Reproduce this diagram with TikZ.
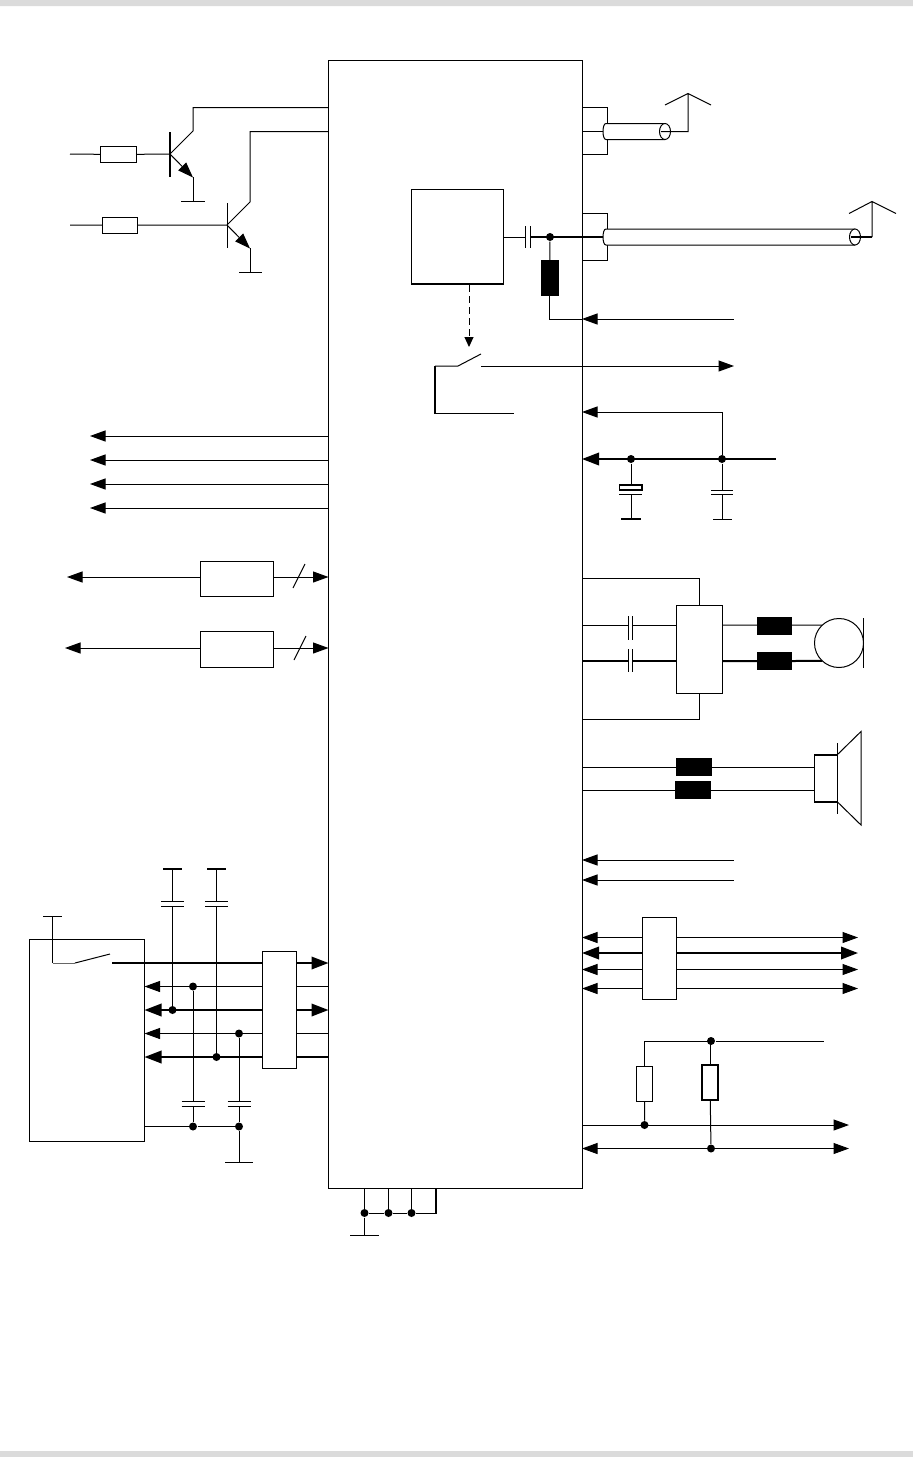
\documentclass[tikz,border=0pt]{standalone}
\usetikzlibrary{arrows.meta}
\tikzset{
  box/.style 2 args={draw, fill=white, anchor=north west, inner sep=0pt, outer sep=0pt,
    minimum width=#1pt, minimum height=#2pt},
  choke/.style 2 args={fill=black, anchor=north west, inner sep=0pt, outer sep=0pt,
    minimum width=#1pt, minimum height=#2pt},
  dot/.style={circle, fill=black, inner sep=0pt, minimum size=8pt},
  bus/.style={line width=2pt, >={Triangle[length=17pt,width=12.5pt]}},
}
\begin{document}
\begin{tikzpicture}[x=1pt, y=-1pt, line width=1pt, >={Triangle[length=15.5pt,width=11pt]}]
\useasboundingbox (0,0) rectangle (913,1457);
\fill[black!14] (0,0) rectangle (913,6) (0,1451) rectangle (913,1457);
%
% blocks
\node[box={253.5}{1128}] (ic) at (328.5,60) {};
\node[box={92}{95}] (rf) at (411,189) {};
\node[box={73}{35}] (lv1) at (200,561) {};
\node[box={73}{36}] (lv2) at (200,631) {};
\node[box={46.5}{88.5}] (amp) at (676,605) {};
\node[box={34.5}{82.5}] (esd) at (642,917) {};
\node[box={115}{201.5}] (sim) at (29.5,939.5) {};
\node[box={34.5}{117}] (flt) at (262,951) {};
\node[box={36}{16}] (r1) at (100,146.5) {};
\node[box={35}{16}] (r2) at (102,217) {};
\node[box={16}{35.5}] (r3) at (636.5,1066) {};
\node[box={16}{35}, line width=1.4pt] (r4) at (702,1065) {};
\node[box={23}{47.5}] (spk) at (814.5,754.5) {};
\node[circle, draw, fill=white, inner sep=0pt, outer sep=0pt, minimum size=49pt] (mic) at (839,643) {};
%
\node[choke={17.5}{36}] (l1) at (541,260) {};
\node[choke={35}{18}] (l2) at (757,616.5) {};
\node[choke={35}{18}] (l3) at (757,652) {};
\node[choke={36}{18}] (l4) at (676,758) {};
\node[choke={36}{18}] (l5) at (675,781) {};
%
\foreach \n/\x/\y in {j1/550/237, j2/631/459, j3/722/459,
  j4/193/986.5, j5/172.5/1010, j6/239/1033.5, j7/216.5/1057,
  j8/193/1126.5, j9/239/1126.5,
  j10/711/1041, j11/644.5/1125, j12/711/1148.5,
  j13/364.5/1213, j14/388.5/1213, j15/411.5/1213}
  \node[dot] (\n) at (\x,\y) {};
%
\coordinate (t1) at (170,154);
\coordinate (t2) at (227,225);
%
% transistors
\draw (70,154) -- (r1) (r1) -- (t1) (70,225) -- (r2) (r2) -- (t2);
\draw[bus] (170,132) -- (170,177);
\draw (227,203) -- (227,248);
\draw (t1) -- (193,131) -- (193,107.5) -- (ic.west|-0,107.5);
\draw (t2) -- (250,202) -- (250,131.5) -- (ic.west|-0,131.5);
\draw[->] (t1) -- (193,177.5);
\draw[->] (t2) -- (250,248.5);
\draw (193,177) -- (193,201.5) (250,248) -- (250,272);
%
% ground and supply bars
\foreach \x/\y/\w in {181/201.5/24, 239/272/23, 713/519/19, 43/916.5/19, 225/1162.5/28, 350/1235.5/29}
  \draw (\x,\y) -- +(\w,0);
\foreach \x/\y/\w in {621/519/20, 163/869/19, 207/869/19}
  \draw[bus] (\x,\y) -- +(\w,0);
%
% antenna side
\draw (ic.east|-0,107.5) -- (607,107.5) -- (607,154) -- (ic.east|-0,154);
\draw (ic.east|-0,131.5) -- (604,131.5);
\draw (ic.east|-0,213) -- (607,213) -- (607,260) -- (ic.east|-0,260);
\draw[bus] (530,237) -- (604,237);
\foreach \xe/\yc in {665/131.5, 855/237} {
  \draw[fill=white] (\xe,\yc+8) -- (606,\yc+8)
    .. controls (602,\yc+8) and (602,\yc-8) .. (606,\yc-8) -- (\xe,\yc-8);
  \draw[fill=white] (\xe,\yc) ellipse [x radius=5.5, y radius=8];
}
\draw (661,131.5) -- (688,131.5) -- (688,93.5) (665,105) -- (688,93.5) -- (711,105);
\draw[bus] (851,237) -- (872,237);
\draw (872,237) -- (872,201.5) (849,213.5) -- (872,201.5) -- (896,213.5);
%
% rf output
\draw (rf.east|-0,237) -- (525.5,237) (525.5,226) -- (525.5,248) (530,226) -- (530,248);
\draw (j1) -- (l1);
\draw[<-] (ic.east|-0,319) -- (734,319);
\draw (l1) -- (l1.center|-0,319) -- (ic.east|-0,319);
\draw[bus] (rf.south west) -- (rf.south east);
\draw[dashed, dash pattern=on 7pt off 4pt, -{Triangle[length=10pt,width=9pt]}] (469,285) -- (469,347);
%
% switch
\draw (481,354) -- (458,366) -- (435,366);
\draw[bus] (435,366) -- (435,413);
\draw (434,413) -- (514,413);
\draw[->] (481,366) -- (734,366);
%
% supply
\draw[<-] (ic.east|-0,412) -- (722,412) -- (j3);
\draw[bus, <-] (ic.east|-0,459) -- (776,459);
\draw (j3) -- (722,490) (722,494.5) -- (722,519);
\draw (711,490) -- (733,490) (711,494.5) -- (733,494.5);
\draw (j2) -- (631,485) (631,494) -- (631,519);
\draw[line width=1.5pt] (619.5,485) rectangle (642,490);
\draw (619,494) -- (642,494);
%
% left outputs
\foreach \y in {436,460,484,508}
  \draw[->] (ic.west|-0,\y) -- (90,\y);
%
\draw[->] (lv1.west|-0,577) -- (67,577);
\draw[->] (lv2.west|-0,648) -- (65,648);
\draw[->] (lv1.east|-0,577) -- (ic.west|-0,577);
\draw[->] (lv2.east|-0,648) -- (ic.west|-0,648);
\draw (293,588) -- (305,564) (294,660) -- (306,636);
%
% microphone
\draw (ic.east|-0,578.5) -- (amp.north|-0,578.5) -- (amp.north);
\draw (amp.south) -- (amp.south|-0,719) -- (ic.east|-0,719);
\draw (ic.east|-0,625) -- (628,625) (632.5,625) -- (amp.west|-0,625);
\draw[bus] (ic.east|-0,661) -- (628,661) (632.5,661) -- (amp.west|-0,661);
\draw (628,616) -- (628,640) (632.5,616) -- (632.5,640)
  (628,649) -- (628,672) (632.5,649) -- (632.5,672);
\draw (amp.east|-0,625) -- (l2.west|-0,625) (l2.east|-0,625) -- (mic.133);
\draw[bus] (amp.east|-0,661) -- (l3.west) (l3.east) -- (mic.227);
\draw (863.5,618) -- (863.5,668);
%
% speaker
\draw (ic.east|-0,767) -- (l4.west) (l4.east) -- (spk.west|-0,767);
\draw (ic.east|-0,790) -- (l5.west) (l5.east) -- (spk.west|-0,790);
\draw[bus] (spk.north west) -- (spk.north east) (spk.south west) -- (spk.south east);
\draw (spk.east|-0,743) -- (spk.east|-0,814);
\draw (spk.north east) -- (861,731.5) -- (861,825) -- (spk.south east);
%
\foreach \y in {860,880}
  \draw[<-] (ic.east|-0,\y) -- (734,\y);
%
% interface lines, right
\foreach \y in {937.5,969.5,988.5} {
  \draw[<-] (ic.east|-0,\y) -- (esd.west|-0,\y);
  \draw[->] (esd.east|-0,\y) -- (858,\y);
}
\draw[bus, <-] (ic.east|-0,953) -- (esd.west|-0,953);
\draw[bus, ->] (esd.east|-0,953) -- (858,953);
%
% pull-ups
\draw (r3.north) -- (r3.north|-0,1041) -- (j10) (j10) -- (824,1041);
\draw (j10) -- (r4.north|-j10) (r4.north) -- (r4.north|-j10);
\draw (r3) -- (j11) (r4) -- (j12);
\draw[->] (ic.east|-0,1125) -- (849,1125);
\draw[<->] (ic.east|-0,1148.5) -- (849,1148.5);
%
% card side
\draw (52.5,916.5) -- (52.5,963);
\draw[black!60] (52.5,963) -- (75,963);
\draw (75,963) -- (110,954);
\draw[bus] (112,963) -- (flt.west|-0,963);
\draw[bus, ->] (flt.east|-0,963) -- (ic.west|-0,963);
\draw[->] (flt.west|-0,986.5) -- (sim.east|-0,986.5);
\draw (flt.east|-0,986.5) -- (ic.west|-0,986.5);
\draw[bus, ->] (flt.west|-0,1010) -- (sim.east|-0,1010);
\draw[bus, ->] (flt.east|-0,1010) -- (ic.west|-0,1010);
\draw[->] (flt.west|-0,1033.5) -- (sim.east|-0,1033.5);
\draw (flt.east|-0,1033.5) -- (ic.west|-0,1033.5);
\draw[bus, ->] (flt.west|-0,1057) -- (sim.east|-0,1057);
\draw[bus] (flt.east|-0,1057) -- (ic.west|-0,1057);
%
\draw (172.5,869) -- (172.5,901.5) (172.5,906) -- (j5);
\draw (216.5,869) -- (216.5,901.5) (216.5,906) -- (j7);
\draw (j4) -- (193,1101.5) (193,1106) -- (j8);
\draw (j6) -- (239,1101.5) (239,1106) -- (j9);
\foreach \x/\y in {172.5/901.5, 216.5/901.5, 193/1101.5, 239/1101.5}
  \draw (\x-11.5,\y) -- (\x+11.5,\y) (\x-11.5,\y+4.5) -- (\x+11.5,\y+4.5);
\draw (sim.east|-j8) -- (j8) (j8) -- (j9) (j9) -- (239,1162.5);
%
% ground pins
\draw (ic.south-|j13) -- (j13) (j13) -- (364.5,1235.5);
\draw (ic.south-|j14) -- (j14) (ic.south-|j15) -- (j15);
\draw (j13) -- (j14) (j14) -- (j15) (j15) -- (436.5,1213);
\draw[bus] (435.5,1188) -- (435.5,1214);
%
\end{tikzpicture}
\end{document}
